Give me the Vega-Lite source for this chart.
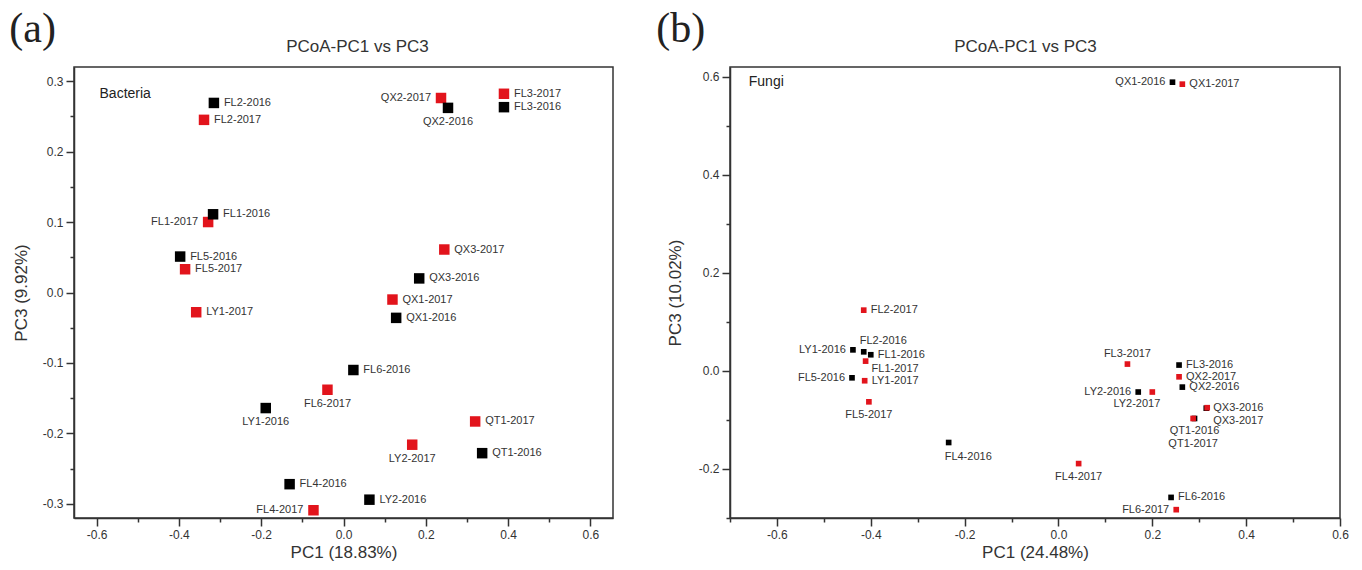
{
  "$schema": "https://vega.github.io/schema/vega-lite/v6.json",
  "padding": {"left": 8, "top": 7, "right": 4, "bottom": 2},
  "background": "white",
  "spacing": 41,
  "config": {
    "view": {"stroke": "#333", "strokeWidth": 1.5},
    "axis": {"grid": false, "domainColor": "#333", "domainWidth": 1.5, "tickColor": "#333", "tickWidth": 1.5, "labelFont": "Liberation Sans", "labelFontSize": 12, "labelColor": "#333", "titleFont": "Liberation Sans", "titleFontSize": 17, "titleFontWeight": "normal", "titleColor": "#333", "labelFlush": false, "labelOverlap": false, "labelPadding": 3},
    "title": {"font": "Liberation Serif", "fontSize": 42, "fontWeight": "normal", "color": "#222", "anchor": "start", "frame": "bounds"}
  },
  "hconcat": [
    {
      "width": 539, "height": 451,
      "title": {"text": "(a)", "offset": -14, "dx": -3},
      "data": {"values": [
        {"label": "FL2-2017", "year": "2017", "x": -0.339, "y": 0.245, "pos": "right"},
        {"label": "FL1-2017", "year": "2017", "x": -0.329, "y": 0.100, "pos": "left"},
        {"label": "FL5-2017", "year": "2017", "x": -0.385, "y": 0.033, "pos": "right"},
        {"label": "LY1-2017", "year": "2017", "x": -0.358, "y": -0.028, "pos": "right"},
        {"label": "QX2-2017", "year": "2017", "x": 0.237, "y": 0.276, "pos": "left"},
        {"label": "FL3-2017", "year": "2017", "x": 0.390, "y": 0.282, "pos": "right"},
        {"label": "QX3-2017", "year": "2017", "x": 0.245, "y": 0.061, "pos": "right"},
        {"label": "QX1-2017", "year": "2017", "x": 0.119, "y": -0.010, "pos": "right"},
        {"label": "FL6-2017", "year": "2017", "x": -0.039, "y": -0.138, "pos": "below"},
        {"label": "FL4-2017", "year": "2017", "x": -0.073, "y": -0.309, "pos": "left"},
        {"label": "QT1-2017", "year": "2017", "x": 0.320, "y": -0.183, "pos": "right"},
        {"label": "LY2-2017", "year": "2017", "x": 0.167, "y": -0.216, "pos": "below"},
        {"label": "FL2-2016", "year": "2016", "x": -0.315, "y": 0.269, "pos": "right"},
        {"label": "FL1-2016", "year": "2016", "x": -0.317, "y": 0.111, "pos": "right"},
        {"label": "FL5-2016", "year": "2016", "x": -0.397, "y": 0.051, "pos": "right"},
        {"label": "QX2-2016", "year": "2016", "x": 0.254, "y": 0.262, "pos": "below"},
        {"label": "FL3-2016", "year": "2016", "x": 0.390, "y": 0.263, "pos": "right"},
        {"label": "QX3-2016", "year": "2016", "x": 0.184, "y": 0.020, "pos": "right"},
        {"label": "QX1-2016", "year": "2016", "x": 0.128, "y": -0.036, "pos": "right"},
        {"label": "FL6-2016", "year": "2016", "x": 0.024, "y": -0.110, "pos": "right"},
        {"label": "LY1-2016", "year": "2016", "x": -0.189, "y": -0.164, "pos": "below"},
        {"label": "FL4-2016", "year": "2016", "x": -0.131, "y": -0.272, "pos": "right"},
        {"label": "QT1-2016", "year": "2016", "x": 0.337, "y": -0.228, "pos": "right"},
        {"label": "LY2-2016", "year": "2016", "x": 0.063, "y": -0.294, "pos": "right"}
      ]},
      "layer": [
        {
          "mark": {"type": "point", "shape": "square", "filled": true, "size": 110, "opacity": 1},
          "encoding": {
            "x": {"field": "x", "type": "quantitative", "scale": {"domain": [-0.655, 0.655], "nice": false, "zero": false},
              "axis": {"orient": "bottom", "title": "PC1 (18.83%)", "values": [-0.6, -0.5, -0.4, -0.3, -0.2, -0.1, 0, 0.1, 0.2, 0.3, 0.4, 0.5, 0.6],
                "tickSize": {"condition": {"test": "abs(round(datum.value*10)) % 2 == 1", "value": 4}, "value": 8},
                "labelExpr": "abs(round(datum.value*10)) % 2 == 1 ? '' : replace(format(datum.value, '.1f'), '\u2212', '-')",
                "titlePadding": 4}},
            "y": {"field": "y", "type": "quantitative", "scale": {"domain": [-0.32, 0.32], "nice": false, "zero": false},
              "axis": {"title": "PC3 (9.92%)", "values": [-0.3, -0.25, -0.2, -0.15, -0.1, -0.05, 0, 0.05, 0.1, 0.15, 0.2, 0.25, 0.3],
                "tickSize": {"condition": {"test": "abs(round(datum.value*20)) % 2 == 1", "value": 4}, "value": 8},
                "labelExpr": "abs(round(datum.value*20)) % 2 == 1 ? '' : replace(format(datum.value, '.1f'), '\u2212', '-')",
                "titlePadding": 12}},
            "color": {"field": "year", "type": "nominal", "scale": {"domain": ["2016", "2017"], "range": ["#000000", "#e2141c"]}, "legend": null}
          }
        },
        {
          "mark": {"type": "text", "font": "Liberation Sans", "fontSize": 11, "color": "#333",
            "align": {"expr": "datum.pos == 'left' ? 'right' : datum.pos == 'below' ? 'center' : 'left'"},
            "baseline": {"expr": "datum.pos == 'below' ? 'top' : 'middle'"},
            "dx": {"expr": "datum.pos == 'right' ? 10 : datum.pos == 'left' ? -10 : 0"},
            "dy": {"expr": "datum.pos == 'below' ? 8 : 0"}},
          "encoding": {
            "x": {"field": "x", "type": "quantitative", "axis": {"orient": "top", "title": "PCoA-PC1 vs PC3", "labels": false, "ticks": false, "domain": false, "titleFontSize": 17, "titlePadding": 12, "titleX": 283}},
            "y": {"field": "y", "type": "quantitative", "axis": null},
            "text": {"field": "label"}
          }
        },
        {
          "data": {"values": [{"name": "Bacteria"}]},
          "mark": {"type": "text", "font": "Liberation Sans", "fontSize": 14, "align": "left", "baseline": "middle", "color": "#222"},
          "encoding": {"x": {"datum": -0.593, "type": "quantitative", "axis": null}, "y": {"datum": 0.282, "type": "quantitative", "axis": null}, "text": {"field": "name"}}
        }
      ],
      "resolve": {"axis": {"x": "independent", "y": "independent"}}
    },
    {
      "width": 610, "height": 451,
      "title": {"text": "(b)", "offset": -14, "dx": -10},
      "data": {"values": [
        {"label": "QX1-2016", "year": "2016", "x": 0.243, "y": 0.589, "pos": "left"},
        {"label": "LY1-2016", "year": "2016", "x": -0.438, "y": 0.043, "pos": "left"},
        {"label": "FL2-2016", "year": "2016", "x": -0.415, "y": 0.039, "pos": "aboveright"},
        {"label": "FL1-2016", "year": "2016", "x": -0.400, "y": 0.033, "pos": "right"},
        {"label": "FL5-2016", "year": "2016", "x": -0.440, "y": -0.014, "pos": "left"},
        {"label": "FL3-2016", "year": "2016", "x": 0.257, "y": 0.012, "pos": "right"},
        {"label": "QX2-2016", "year": "2016", "x": 0.264, "y": -0.033, "pos": "right"},
        {"label": "LY2-2016", "year": "2016", "x": 0.170, "y": -0.043, "pos": "left"},
        {"label": "QX3-2016", "year": "2016", "x": 0.315, "y": -0.076, "pos": "right"},
        {"label": "QT1-2016", "year": "2016", "x": 0.290, "y": -0.097, "pos": "below"},
        {"label": "FL4-2016", "year": "2016", "x": -0.234, "y": -0.146, "pos": "belowright"},
        {"label": "FL6-2016", "year": "2016", "x": 0.240, "y": -0.258, "pos": "right"},
        {"label": "QX1-2017", "year": "2017", "x": 0.264, "y": 0.585, "pos": "right"},
        {"label": "FL2-2017", "year": "2017", "x": -0.415, "y": 0.124, "pos": "right"},
        {"label": "FL1-2017", "year": "2017", "x": -0.411, "y": 0.020, "pos": "rightlow"},
        {"label": "LY1-2017", "year": "2017", "x": -0.413, "y": -0.020, "pos": "right"},
        {"label": "FL5-2017", "year": "2017", "x": -0.404, "y": -0.063, "pos": "below"},
        {"label": "FL3-2017", "year": "2017", "x": 0.147, "y": 0.014, "pos": "above"},
        {"label": "QX2-2017", "year": "2017", "x": 0.257, "y": -0.012, "pos": "right"},
        {"label": "LY2-2017", "year": "2017", "x": 0.200, "y": -0.043, "pos": "belowleft"},
        {"label": "QX3-2017", "year": "2017", "x": 0.317, "y": -0.075, "pos": "rightlow2"},
        {"label": "QT1-2017", "year": "2017", "x": 0.287, "y": -0.097, "pos": "below2"},
        {"label": "FL4-2017", "year": "2017", "x": 0.043, "y": -0.189, "pos": "below"},
        {"label": "FL6-2017", "year": "2017", "x": 0.251, "y": -0.283, "pos": "left"}
      ]},
      "layer": [
        {
          "mark": {"type": "point", "shape": "square", "filled": true, "size": 32, "opacity": 1},
          "encoding": {
            "x": {"field": "x", "type": "quantitative", "scale": {"domain": [-0.7, 0.6], "nice": false, "zero": false},
              "axis": {"orient": "bottom", "title": "PC1 (24.48%)", "values": [-0.7, -0.6, -0.5, -0.4, -0.3, -0.2, -0.1, 0, 0.1, 0.2, 0.3, 0.4, 0.5, 0.6],
                "tickSize": {"condition": {"test": "abs(round(datum.value*10)) % 2 == 1", "value": 4}, "value": 8},
                "labelExpr": "abs(round(datum.value*10)) % 2 == 1 ? '' : replace(format(datum.value, '.1f'), '\u2212', '-')",
                "titlePadding": 4}},
            "y": {"field": "y", "type": "quantitative", "scale": {"domain": [-0.3, 0.62], "nice": false, "zero": false},
              "axis": {"title": "PC3 (10.02%)", "values": [-0.3, -0.2, -0.1, 0, 0.1, 0.2, 0.3, 0.4, 0.5, 0.6],
                "tickSize": {"condition": {"test": "abs(round(datum.value*10)) % 2 == 1", "value": 4}, "value": 8},
                "labelExpr": "abs(round(datum.value*10)) % 2 == 1 ? '' : replace(format(datum.value, '.1f'), '\u2212', '-')",
                "titlePadding": 14}},
            "color": {"field": "year", "type": "nominal", "scale": {"domain": ["2016", "2017"], "range": ["#000000", "#e2141c"]}, "legend": null}
          }
        },
        {
          "mark": {"type": "text", "font": "Liberation Sans", "fontSize": 11, "color": "#333",
            "align": {"expr": "(datum.pos == 'left' || datum.pos == 'belowleft') ? 'right' : (datum.pos == 'below' || datum.pos == 'below2' || datum.pos == 'above') ? 'center' : 'left'"},
            "baseline": {"expr": "(datum.pos == 'below' || datum.pos == 'below2' || datum.pos == 'belowleft' || datum.pos == 'belowright') ? 'top' : (datum.pos == 'above' || datum.pos == 'aboveright') ? 'bottom' : 'middle'"},
            "dx": {"expr": "datum.pos == 'right' ? 7 : datum.pos == 'left' ? -7 : (datum.pos == 'rightlow' || datum.pos == 'rightlow2') ? 6 : (datum.pos == 'aboveright' || datum.pos == 'belowright') ? -4 : datum.pos == 'belowleft' ? 8 : 0"},
            "dy": {"expr": "datum.pos == 'below' ? 7 : datum.pos == 'below2' ? 20 : datum.pos == 'belowleft' ? 6 : datum.pos == 'belowright' ? 8 : datum.pos == 'above' ? -5 : datum.pos == 'aboveright' ? -6 : datum.pos == 'rightlow' ? 8 : datum.pos == 'rightlow2' ? 13 : 0"}},
          "encoding": {
            "x": {"field": "x", "type": "quantitative", "axis": {"orient": "top", "title": "PCoA-PC1 vs PC3", "labels": false, "ticks": false, "domain": false, "titleFontSize": 17, "titlePadding": 12, "titleX": 295}},
            "y": {"field": "y", "type": "quantitative", "axis": null},
            "text": {"field": "label"}
          }
        },
        {
          "data": {"values": [{"name": "Fungi"}]},
          "mark": {"type": "text", "font": "Liberation Sans", "fontSize": 14, "align": "left", "baseline": "middle", "color": "#222"},
          "encoding": {"x": {"datum": -0.66, "type": "quantitative", "axis": null}, "y": {"datum": 0.589, "type": "quantitative", "axis": null}, "text": {"field": "name"}}
        }
      ],
      "resolve": {"axis": {"x": "independent", "y": "independent"}}
    }
  ]
}
